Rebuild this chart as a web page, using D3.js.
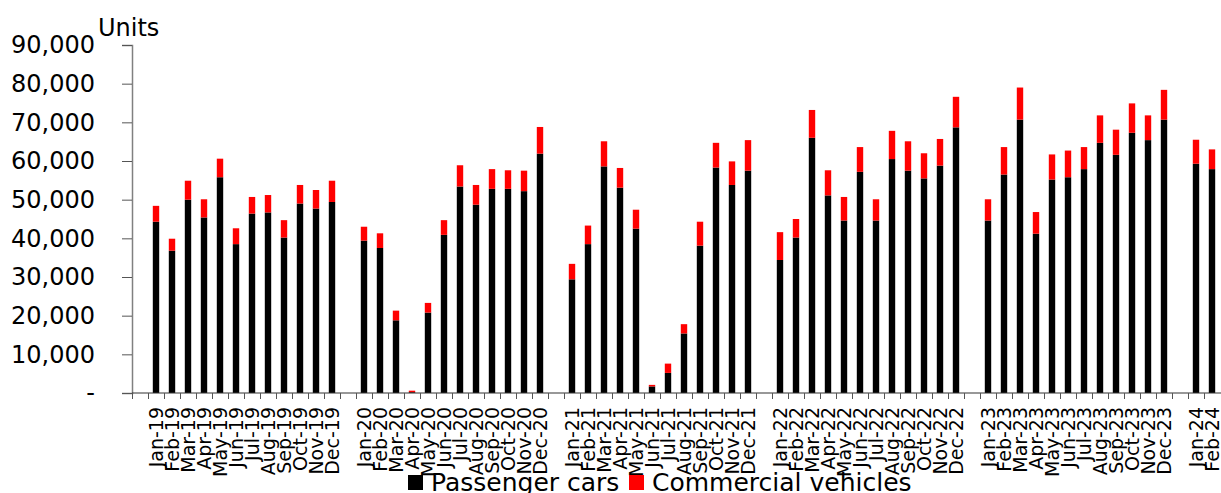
<!DOCTYPE html>
<html>
<head>
<meta charset="utf-8">
<script src="https://cdn.jsdelivr.net/npm/d3@7"></script>
<style>
  body { margin: 0; background: #fff; }
  svg text { font-family: "DejaVu Sans", Verdana, sans-serif; fill: #000; }
</style>
</head>
<body>
<div id="chart"></div>
<script>
// Monthly registrations, Jan-19 .. Feb-24
const years = ['19', '20', '21', '22', '23', '24'];
const monthNames = ['Jan', 'Feb', 'Mar', 'Apr', 'May', 'Jun', 'Jul', 'Aug', 'Sep', 'Oct', 'Nov', 'Dec'];

const passengerCars = [
  44300, 36800, 50000, 45400, 55800, 38500, 46400, 46700, 40200, 49000, 47700, 49400,
  39400, 37500, 18800, 200, 20800, 40900, 53400, 48700, 52800, 52800, 52200, 61900,
  29400, 38500, 58600, 53100, 42500, 1700, 5200, 15400, 38100, 58300, 53800, 57500,
  34400, 40200, 66000, 51100, 44600, 57200, 44600, 60500, 57500, 55500, 58800, 68700,
  44600, 56500, 70700, 41200, 55200, 55800, 57900, 64700, 61600, 67300, 65400, 70700,
  59300, 57900
];
const totals = [
  48400, 39900, 54900, 50100, 60600, 42600, 50700, 51200, 44700, 53800, 52500, 54900,
  43000, 41300, 21300, 600, 23300, 44700, 58900, 53800, 57900, 57600, 57500, 68800,
  33400, 43300, 65100, 58200, 47400, 2100, 7600, 17800, 44300, 64700, 59900, 65400,
  41600, 45000, 73200, 57600, 50700, 63600, 50100, 67800, 65100, 62000, 65700, 76600,
  50100, 63600, 79000, 46800, 61700, 62700, 63600, 71800, 68100, 74900, 71800, 78400,
  65500, 63000
];
const commercialVehicles = totals.map((t, i) => t - passengerCars[i]);

const yTicks = [0, 10000, 20000, 30000, 40000, 50000, 60000, 70000, 80000, 90000];
const seriesNames = ['Passenger cars', 'Commercial vehicles'];
const seriesColors = ['#000000', '#ff0000'];

// Month labels, with a blank slot before each year
const monthLabels = [];
const slots = [];
years.forEach(yr => {
  slots.push('gap-' + yr);
  const n = yr === '24' ? 2 : 12;
  for (let m = 0; m < n; m++) {
    const label = `${monthNames[m]}-${yr}`;
    monthLabels.push(label);
    slots.push(label);
  }
});

const rows = monthLabels.map((label, i) => ({
  label,
  passenger: passengerCars[i],
  commercial: commercialVehicles[i]
}));

const width = 1221;
const height = 493;
const margin = { left: 132, right: 1, top: 45, bottom: 100 };

const svg = d3.select('#chart').append('svg')
  .attr('width', width)
  .attr('height', height);

const x = d3.scaleBand()
  .domain(slots)
  .range([margin.left, width - margin.right]);

const y = d3.scaleLinear()
  .domain([0, 90000])
  .range([height - margin.bottom, margin.top]);

const stack = d3.stack().keys(['passenger', 'commercial']);
const layers = stack(rows);

const barW = x.bandwidth() * 0.4;

svg.append('g')
  .selectAll('g')
  .data(layers)
  .join('g')
    .attr('fill', (d, i) => seriesColors[i])
  .selectAll('rect')
  .data(d => d)
  .join('rect')
    .attr('x', d => x(d.data.label) + (x.bandwidth() - barW) / 2)
    .attr('y', d => y(d[1]))
    .attr('width', barW)
    .attr('height', d => y(d[0]) - y(d[1]));

// Y axis
const yAxis = d3.axisLeft(y)
  .tickValues(yTicks)
  .tickSize(10)
  .tickPadding(27)
  .tickFormat(d => d === 0 ? '-' : d3.format(',')(d));

const yg = svg.append('g')
  .attr('transform', `translate(${margin.left},0)`)
  .call(yAxis);
yg.select('.domain').attr('stroke', '#808080').attr('stroke-width', 1.5);
yg.selectAll('.tick line').attr('stroke', '#555');
yg.selectAll('.tick text').attr('font-size', 24);

// X axis: baseline, boundary ticks, rotated month labels
const baseY = y(0);
svg.append('line')
  .attr('x1', margin.left).attr('x2', width)
  .attr('y1', baseY).attr('y2', baseY)
  .attr('stroke', '#333').attr('stroke-width', 1.2);

svg.append('g')
  .selectAll('line')
  .data(slots)
  .join('line')
    .attr('x1', d => x(d) + 0.5)
    .attr('x2', d => x(d) + 0.5)
    .attr('y1', baseY)
    .attr('y2', baseY + 6)
    .attr('stroke', '#555');

const xAxis = d3.axisBottom(x)
  .tickValues(monthLabels)
  .tickSize(0)
  .tickPadding(0);

const xg = svg.append('g')
  .attr('transform', `translate(0,${baseY})`)
  .call(xAxis);
xg.select('.domain').remove();
xg.selectAll('.tick text')
  .attr('font-size', 19)
  .attr('text-anchor', 'end')
  .attr('transform', 'rotate(-90)')
  .attr('x', -14)
  .attr('y', 0)
  .attr('dy', '0.36em');

// Units label
svg.append('text')
  .attr('x', 98)
  .attr('y', 36)
  .attr('font-size', 24)
  .text('Units');

// Legend
const legend = svg.append('g');
const legendItems = [
  { name: seriesNames[0], color: seriesColors[0], x: 408 },
  { name: seriesNames[1], color: seriesColors[1], x: 629 }
];
legendItems.forEach(item => {
  legend.append('rect')
    .attr('x', item.x)
    .attr('y', 475)
    .attr('width', 15)
    .attr('height', 15)
    .attr('fill', item.color);
  legend.append('text')
    .attr('x', item.x + 23)
    .attr('y', 491)
    .attr('font-size', 25)
    .text(item.name);
});
</script>
</body>
</html>
